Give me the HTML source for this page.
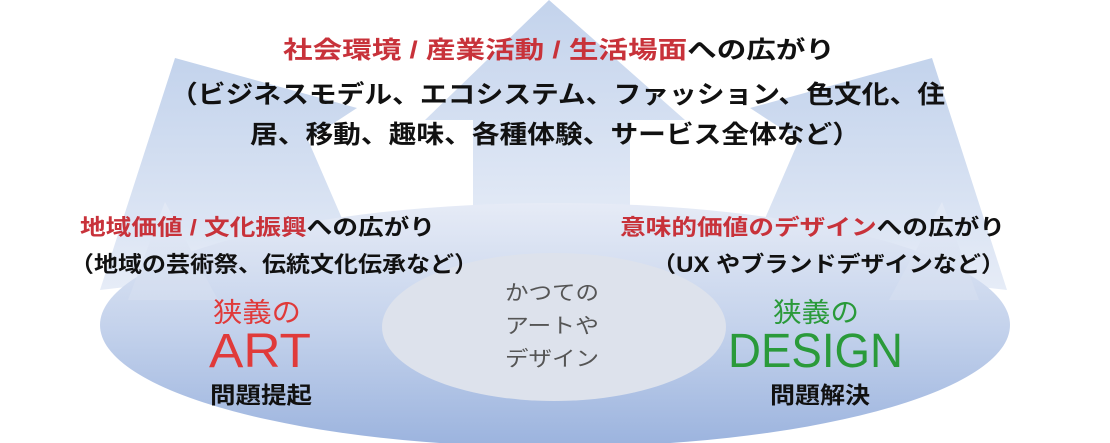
<!DOCTYPE html>
<html><head><meta charset="utf-8"><style>
html,body{margin:0;padding:0;background:#fff;width:1110px;height:443px;overflow:hidden}
text{font-family:"Liberation Sans","Noto Sans CJK JP",sans-serif;font-weight:bold}
</style></head><body>
<svg width="1110" height="443" viewBox="0 0 1110 443" xmlns="http://www.w3.org/2000/svg">
<defs>
<linearGradient id="ar" x1="0" y1="0" x2="0" y2="1"><stop offset="0" stop-color="#c3d3ec"/><stop offset="1" stop-color="#e6ecf7"/></linearGradient>
<linearGradient id="ar2" x1="0" y1="0" x2="0" y2="1"><stop offset="0" stop-color="#e4eaf6"/><stop offset="1" stop-color="#d3ddef"/></linearGradient>
<linearGradient id="el" x1="0" y1="0" x2="0" y2="1"><stop offset="0" stop-color="#e6ebf6"/><stop offset="0.5" stop-color="#c5d3ec"/><stop offset="1" stop-color="#9bb3de"/></linearGradient>
</defs>
<polygon points="549,0 685,120 630,120 630,240 473,240 473,120 425,120" fill="url(#ar)"/>
<polygon points="175,58 357,108 308,140 360,260 100,290" fill="url(#ar)"/>
<polygon points="932,58 750,108 799,140 747,260 1007,290" fill="url(#ar)"/>
<ellipse cx="555" cy="325" rx="455" ry="122" fill="url(#el)"/>
<polygon points="165,202 218,300 128,300" fill="url(#ar2)" opacity="0.8"/>
<polygon points="942,202 889,300 979,300" fill="url(#ar2)" opacity="0.8"/>
<ellipse cx="554" cy="327" rx="172" ry="74" fill="#dde2ec"/>
<text x="283" y="58" font-size="24" textLength="552" lengthAdjust="spacingAndGlyphs"><tspan fill="#c8323a">社会環境 / 産業活動 / 生活場面</tspan><tspan fill="#111">への広がり</tspan></text>
<text x="170" y="103" font-size="25" fill="#111" textLength="775" lengthAdjust="spacingAndGlyphs">（ビジネスモデル、エコシステム、ファッション、色文化、住</text>
<text x="250" y="143" font-size="25" fill="#111" textLength="610" lengthAdjust="spacingAndGlyphs">居、移動、趣味、各種体験、サービス全体など）</text>
<text x="80" y="235" font-size="22" textLength="355" lengthAdjust="spacingAndGlyphs"><tspan fill="#c8323a">地域価値 / 文化振興</tspan><tspan fill="#111">への広がり</tspan></text>
<text x="70" y="272" font-size="22" fill="#111" textLength="408" lengthAdjust="spacingAndGlyphs">（地域の芸術祭、伝統文化伝承など）</text>
<text x="620" y="235" font-size="22" textLength="385" lengthAdjust="spacingAndGlyphs"><tspan fill="#c8323a">意味的価値のデザイン</tspan><tspan fill="#111">への広がり</tspan></text>
<text x="652" y="272" font-size="22" fill="#111" textLength="353" lengthAdjust="spacingAndGlyphs">（UX やブランドデザインなど）</text>
<text x="213" y="322" font-size="27" fill="#e03a3a" style="font-weight:normal" textLength="88" lengthAdjust="spacingAndGlyphs">狭義の</text>
<text x="209" y="367" font-size="48" fill="#e03a3a" style="font-weight:normal" textLength="102" lengthAdjust="spacingAndGlyphs">ART</text>
<text x="210" y="403" font-size="23" fill="#111" textLength="102" lengthAdjust="spacingAndGlyphs">問題提起</text>
<text x="773" y="322" font-size="27" fill="#2a9a3a" style="font-weight:normal" textLength="86" lengthAdjust="spacingAndGlyphs">狭義の</text>
<text x="728" y="367" font-size="48" fill="#2a9a3a" style="font-weight:normal" textLength="175" lengthAdjust="spacingAndGlyphs">DESIGN</text>
<text x="770" y="403" font-size="23" fill="#111" textLength="100" lengthAdjust="spacingAndGlyphs">問題解決</text>
<text x="505" y="300" font-size="21" fill="#555" style="font-weight:normal" textLength="94" lengthAdjust="spacingAndGlyphs">かつての</text>
<text x="505" y="333" font-size="21" fill="#555" style="font-weight:normal" textLength="94" lengthAdjust="spacingAndGlyphs">アートや</text>
<text x="505" y="366" font-size="21" fill="#555" style="font-weight:normal" textLength="94" lengthAdjust="spacingAndGlyphs">デザイン</text>
</svg>
</body></html>
